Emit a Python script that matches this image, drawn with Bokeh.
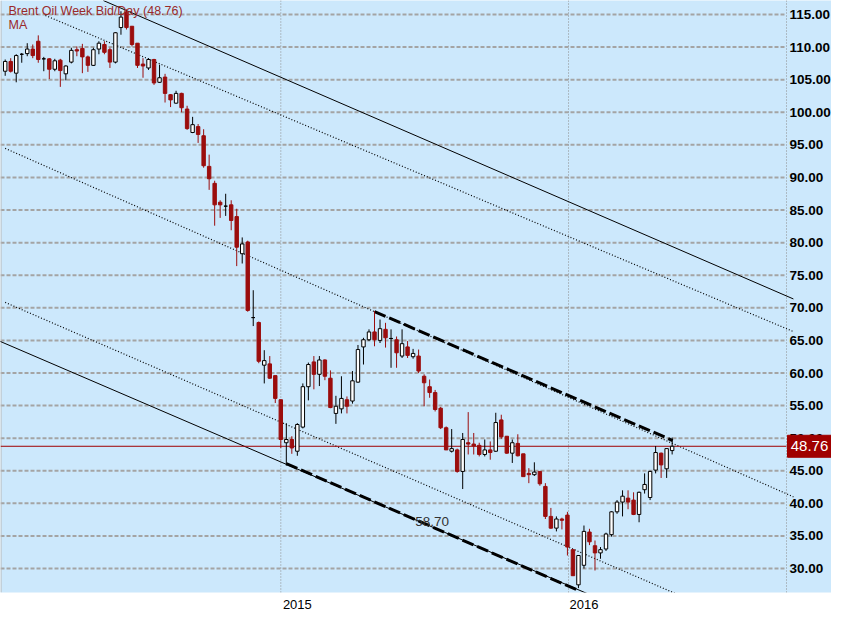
from bokeh.plotting import figure
from bokeh.models import FixedTicker, ColumnDataSource
from bokeh.core.properties import value
from bokeh.embed import file_html
from bokeh.resources import INLINE

# ---- weekly Brent candles ----
opens = [106.3,107.8,106.0,108.9,109.0,109.7,110.9,108.2,108.2,106.6,
         108.0,105.9,107.7,109.6,109.8,108.5,107.2,109.7,110.4,109.6,
         107.7,113.0,115.4,113.2,110.6,107.4,106.8,108.1,104.6,105.4,
         102.7,101.4,102.9,100.5,96.9,97.8,96.4,91.7,89.1,86.2,
         85.6,85.8,84.0,78.3,80.1,68.5,67.75,61.2,61.4,59.6,
         55.9,49.3,49.8,48.0,51.7,57.9,61.7,59.8,62.0,59.2,
         53.8,54.5,55.9,55.7,58.6,64.0,65.1,66.3,65.0,66.7,
         65.3,65.1,62.6,64.0,62.5,62.6,59.5,57.9,57.0,54.6,
         51.6,48.0,48.2,44.9,49.3,49.1,48.9,47.5,48.2,48.0,
         52.8,50.3,47.7,49.2,47.6,44.6,44.4,44.9,42.6,38.0,
         36.2,37.6,38.2,32.9,27.5,30.5,35.6,33.5,32.4,33.0,
         35.2,38.7,40.2,40.8,40.5,38.3,42.1,40.9,45.1,47.7,
         45.3,48.1]
highs = [108.1,108.3,108.9,109.1,110.6,110.4,111.8,108.5,108.3,108.2,
         108.2,107.2,109.9,110.1,110.5,108.7,109.9,110.9,110.9,109.9,
         112.3,115.5,115.8,113.2,110.6,108.3,108.3,108.2,107.3,105.9,
         102.8,103.3,103.0,101.0,99.3,98.2,97.4,93.5,89.5,86.5,
         87.5,86.5,85.2,80.8,80.3,72.7,67.9,63.5,62.6,59.6,
         55.9,52.3,50.3,52.3,58.4,61.6,62.6,62.6,62.1,60.4,
         56.5,59.5,56.4,60.3,64.3,65.4,66.7,69.5,68.2,67.7,
         66.7,65.6,66.7,64.9,63.7,63.6,59.8,59.0,57.4,54.8,
         51.8,51.4,48.4,50.8,54.0,50.8,49.3,49.8,49.5,53.9,
         53.6,50.3,49.8,50.6,47.6,45.4,46.3,44.9,43.1,39.3,
         38.0,37.8,38.7,32.9,32.0,36.6,36.1,34.3,33.3,35.5,
         38.8,40.5,42.0,42.0,41.7,41.8,44.6,45.0,48.8,47.8,
         48.4,50.1]
lows = [105.6,106.1,104.6,107.6,108.6,108.3,107.6,106.3,105.1,106.3,
        103.9,104.9,107.5,108.6,106.0,106.2,107.1,108.9,108.9,106.8,
        107.5,111.9,112.7,110.1,106.8,105.3,106.5,104.2,104.5,101.5,
        100.8,101.3,100.0,97.3,96.8,95.3,91.5,88.1,82.6,83.8,
        84.1,81.9,76.4,76.8,69.4,67.2,61.5,58.4,59.1,55.4,
        48.5,45.8,47.6,47.3,51.5,55.8,57.5,58.0,58.9,54.6,
        52.2,53.8,53.8,55.3,58.5,61.3,64.9,64.1,64.6,63.9,
        60.8,60.8,62.3,62.3,62.2,60.0,54.9,56.2,54.1,51.4,
        48.2,47.8,44.7,42.2,47.5,47.5,47.2,47.2,46.7,47.9,
        49.9,47.6,46.2,47.2,44.1,43.1,44.2,42.7,37.6,36.1,
        35.7,36.0,32.0,28.9,27.0,30.0,33.6,29.7,31.5,32.7,
        34.9,38.4,38.0,39.1,38.2,37.1,41.5,40.5,44.6,43.9,
        43.9,47.5]
closes = [107.8,106.3,108.7,108.9,109.7,108.7,108.1,108.2,106.6,107.9,
          106.4,107.1,109.5,109.4,108.5,107.2,109.6,110.6,109.2,107.7,
          112.2,114.6,113.0,110.4,107.2,107.1,108.1,104.5,105.3,102.9,
          101.9,102.9,100.7,97.5,98.1,96.6,91.8,89.8,85.8,85.8,
          85.6,83.4,79.3,79.8,69.6,68.5,61.8,61.9,59.2,56.1,
          49.8,49.8,48.5,52.1,57.9,61.3,59.8,62.0,59.5,54.7,
          54.9,56.1,54.9,58.8,63.6,65.1,66.3,65.1,66.8,65.4,
          65.3,63.1,64.5,62.7,63.0,60.3,58.5,57.0,54.4,51.6,
          48.2,48.4,44.9,49.8,49.1,48.8,47.5,48.2,47.8,52.4,
          50.2,47.7,49.3,47.3,44.1,44.4,44.8,43.0,38.0,36.2,
          37.6,37.4,33.3,28.9,32.0,35.7,34.1,32.4,32.9,35.3,
          38.7,40.2,41.1,40.2,38.3,41.7,42.9,44.9,47.8,45.9,
          48.4,48.76]

last_price = 48.76
price_ticks = [30, 35, 40, 45, 50, 55, 60, 65, 70, 75, 80, 85, 90, 95, 100, 105, 110, 115]
year_ticks = [50, 102.2]
year_labels = ["2015", "2016"]
year_label_ticks = [53, 105]

# channel lines: (week index, price) end points
solid_lines_x = [[17.8, 143.0], [-1.0, 143.0]]
solid_lines_y = [[117.15, 71.36], [64.88, 12.57]]
dotted_lines_x = [[7.3, 143.0], [0.0, 143.0], [0.0, 143.0]]
dotted_lines_y = [[114.85, 66.35], [94.46, 41.0], [70.83, 18.3]]
dashed_lines_x = [[67.0, 121.1], [51.0, 104.0]]
dashed_lines_y = [[69.43, 49.64], [46.11, 26.63]]
note_text = "58.70"
note_pos = (74.4, 37.2)

# ---- layout (pixels -> data helpers) ----
BG = "#cce8fc"
RED = "#9b0d0d"
FONT = "Liberation Sans"
W, H = 831, 592            # frame size in px
PX_X = 5.512               # px per week
PX_Y = 6.518               # px per price unit
X0 = -0.853                # week index at left edge
YTOP = 117.15              # price at top edge

def xd(px):
    return X0 + px / PX_X

def yd(py):
    return YTOP - py / PX_Y

EDGE = xd(786)             # right edge of the price area
LABEL_X = xd(789)

idx = list(range(len(closes)))
fills, lines = [], []
for o, c in zip(opens, closes):
    if c > o:
        fills.append("white"); lines.append("black")
    elif c < o:
        fills.append(RED); lines.append(RED)
    else:
        fills.append("black"); lines.append("black")
src = ColumnDataSource(dict(
    x=idx, h=highs, l=lows,
    top=[max(o, c) for o, c in zip(opens, closes)],
    bottom=[min(o, c) for o, c in zip(opens, closes)],
    fill=fills, line=lines))

p = figure(frame_width=W, frame_height=H,
           x_range=(X0, xd(W)), y_range=(yd(H), YTOP),
           y_axis_location=None, output_backend="svg", toolbar_location=None,
           min_border=0, background_fill_color=BG, border_fill_color="white")
p.grid.visible = False
p.outline_line_color = None

# grid lines (only over the price area)
p.segment(x0=[X0] * len(price_ticks), x1=[EDGE] * len(price_ticks),
          y0=price_ticks, y1=price_ticks,
          line_color="#a4a4a4", line_width=2, line_dash="4 2")
p.segment(x0=year_ticks, x1=year_ticks, y0=[yd(H)] * 2, y1=[YTOP] * 2,
          line_color="#8c8c8c", line_width=1, line_dash="1 2")
p.segment(x0=[EDGE], x1=[EDGE], y0=[yd(H)], y1=[YTOP],
          line_color="#8c8c8c", line_width=1, line_dash="1 2")
p.segment(x0=[xd(0.5)], x1=[xd(0.5)], y0=[yd(H)], y1=[YTOP],
          line_color="#b8b8b8", line_width=1)

# channel lines
p.multi_line(solid_lines_x, solid_lines_y, line_color="black", line_width=1)
p.multi_line(dotted_lines_x, dotted_lines_y, line_color="black", line_width=1.2, line_dash="1 2")
p.multi_line(dashed_lines_x, dashed_lines_y, line_color="black", line_width=3, line_dash="12 4")

# last price line
p.segment(x0=[X0], x1=[EDGE], y0=[last_price], y1=[last_price], line_color="#a00000", line_width=1)

# candles
p.segment(x0="x", y0="l", x1="x", y1="h", line_color="line", line_width=1, source=src)
p.vbar(x="x", width=0.62, top="top", bottom="bottom", fill_color="fill",
       line_color="line", line_width=1, source=src)

# price labels on the right
p.text(x=[LABEL_X] * len(price_ticks), y=price_ticks,
       text=["%.2f" % t for t in price_ticks],
       text_font=value(FONT), text_font_style="bold", text_font_size="13.5px",
       text_color="black", text_baseline="middle", text_align="left")

# last price box
p.rect(x=[xd(809)], y=[last_price], width=44 / PX_X, height=22 / PX_Y,
       fill_color="#a00000", line_color="#a00000")
p.text(x=[xd(809)], y=[last_price], text=["48.76"],
       text_font=value(FONT), text_font_size="15px", text_color="white",
       text_baseline="middle", text_align="center")

# x axis with year labels
p.xaxis.ticker = FixedTicker(ticks=year_label_ticks)
p.xaxis.major_label_overrides = dict(zip(year_label_ticks, year_labels))
p.xaxis.major_label_text_font = FONT
p.xaxis.major_label_text_font_size = "13px"
p.xaxis.major_label_text_color = "black"
p.xaxis.major_label_standoff = 1
p.xaxis.axis_line_color = None
p.xaxis.major_tick_line_color = None
p.xaxis.minor_tick_line_color = None

# texts
p.text(x=[xd(8)], y=[yd(3)], text=["Brent Oil Week Bid/Day (48.76)"],
       text_font=value(FONT), text_font_size="12.5px", text_color="#9a2a2a",
       text_baseline="top", text_align="left")
p.text(x=[xd(8)], y=[yd(17)], text=["MA"],
       text_font=value(FONT), text_font_size="12.5px", text_color="#9a2a2a",
       text_baseline="top", text_align="left")
p.text(x=[note_pos[0]], y=[note_pos[1]], text=[note_text],
       text_font=value(FONT), text_font_size="13.5px", text_color="#333333",
       text_baseline="middle", text_align="left")

open("out.html", "w").write(file_html(p, INLINE))
